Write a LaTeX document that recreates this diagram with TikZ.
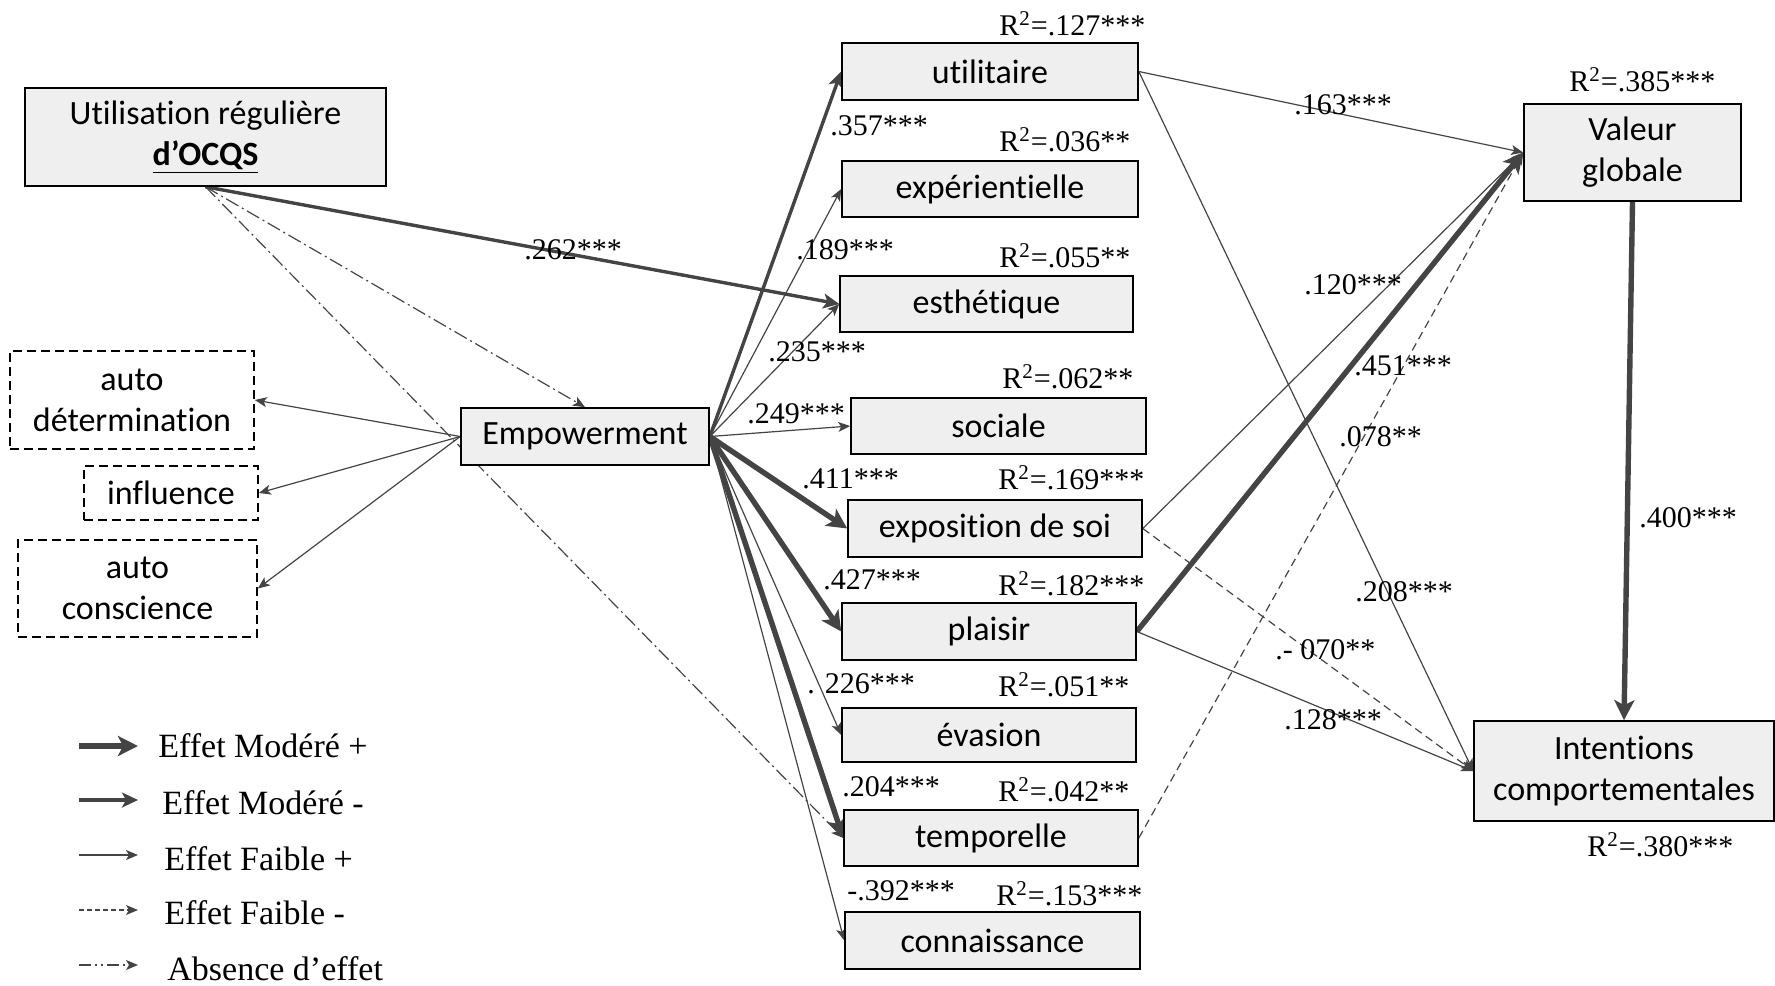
\documentclass[tikz,border=0pt]{standalone}
\usepackage{fontspec}
\setmainfont{Liberation Serif}
\newfontfamily\boxfont[RawFeature=-liga]{Carlito}
\usetikzlibrary{arrows.meta,backgrounds}

\definecolor{boxgray}{HTML}{EFEFEF}
\definecolor{arrowgray}{HTML}{444444}

\tikzset{
  box/.style={draw=black, line width=0.8pt, fill=boxgray, align=center, inner sep=0pt,
    font=\boxfont\fontsize{17}{20.5}\selectfont},
  dimbox/.style={box, fill=white, dash pattern=on 4.5pt off 2.5pt},
  coef/.style={anchor=west, inner sep=0pt, font=\fontsize{15}{18}\selectfont},
  legtext/.style={anchor=west, inner sep=0pt, font=\fontsize{17}{20}\selectfont},
  faible/.style={draw=arrowgray, line width=0.6pt, -{Stealth[length=6pt,width=5pt,inset=1.5pt]}},
  faibleneg/.style={faible, dash pattern=on 4pt off 2.5pt},
  absence/.style={faible, dash pattern=on 7pt off 2pt on 1pt off 2pt},
  modneg/.style={draw=arrowgray, line width=1.7pt, -{Stealth[length=8pt,width=7.5pt,inset=2pt]}},
  modpos/.style={draw=arrowgray, line width=2.7pt, -{Stealth[length=10pt,width=10pt,inset=2.5pt]}},
}

\begin{document}
\begin{tikzpicture}[x=0.5pt,y=-0.5pt]
  \useasboundingbox (0,0) rectangle (1775,985);

  % Antecedent et empowerment
  \node[box, minimum width=180.5pt, minimum height=49pt] (usage) at (205.5,137)
    {Utilisation régulière\\\textbf{\underline{d’OCQS}}};
  \node[box, minimum width=124pt, minimum height=28.5pt] (empow) at (585,436.5) {Empowerment};

  % Dimensions de l'empowerment
  \node[dimbox, minimum width=122pt, minimum height=49pt] (autodet) at (132,400) {auto\\détermination};
  \node[dimbox, minimum width=87pt, minimum height=27pt] (influ) at (171,493) {influence};
  \node[dimbox, minimum width=119.5pt, minimum height=48.5pt] (autocons) at (137.5,588.5) {auto\\conscience};

  % Sources de valeur
  \node[box, minimum width=148pt, minimum height=28.5pt] (utilit) at (990,71.5) {utilitaire};
  \node[box, minimum width=148pt, minimum height=28pt] (exper) at (990,189) {expérientielle};
  \node[box, minimum width=146.5pt, minimum height=28pt] (esth) at (986.5,304) {esthétique};
  \node[box, minimum width=147.5pt, minimum height=28pt] (soc) at (998.5,426) {sociale};
  \node[box, minimum width=147pt, minimum height=28.5pt] (expo) at (995,528.5) {exposition de soi};
  \node[box, minimum width=147pt, minimum height=28.5pt] (plai) at (989,631.5) {plaisir};
  \node[box, minimum width=147pt, minimum height=27pt] (evas) at (989,735) {évasion};
  \node[box, minimum width=147pt, minimum height=28pt] (temp) at (991,838) {temporelle};
  \node[box, minimum width=147.5pt, minimum height=28.5pt] (conn) at (992.5,940.5) {connaissance};

  % Variables finales
  \node[box, minimum width=108.5pt, minimum height=48.5pt] (valeur) at (1632.5,152.5) {Valeur\\globale};
  \node[box, minimum width=150pt, minimum height=50pt] (intent) at (1624,771) {Intentions\\comportementales};

  % R2
  \node[coef] (r2utilit) at (999,24) {R\textsuperscript{2}=.127***};
  \node[coef] (r2exper) at (999,140) {R\textsuperscript{2}=.036**};
  \node[coef] (r2esth) at (999,256) {R\textsuperscript{2}=.055**};
  \node[coef] (r2soc) at (1002,377) {R\textsuperscript{2}=.062**};
  \node[coef] (r2expo) at (998,478) {R\textsuperscript{2}=.169***};
  \node[coef] (r2plai) at (998,584) {R\textsuperscript{2}=.182***};
  \node[coef] (r2evas) at (998,685) {R\textsuperscript{2}=.051**};
  \node[coef] (r2temp) at (998,790) {R\textsuperscript{2}=.042**};
  \node[coef] (r2conn) at (996,894) {R\textsuperscript{2}=.153***};
  \node[coef] (r2valeur) at (1569,80) {R\textsuperscript{2}=.385***};
  \node[coef] (r2intent) at (1587,845) {R\textsuperscript{2}=.380***};

  % Coefficients
  \node[coef] (cusage) at (524,250) {.262***};
  \node[coef] (cutilit) at (830,126) {.357***};
  \node[coef] (cexper) at (796,250) {.189***};
  \node[coef] (cesth) at (768,352) {.235***};
  \node[coef] (csoc) at (747,414) {.249***};
  \node[coef] (cexpo) at (802,479) {.411***};
  \node[coef] (cplai) at (823,580) {.427***};
  \node[coef] (cevas) at (807,684) {. 226***};
  \node[coef] (ctemp) at (842,787) {.204***};
  \node[coef] (cconn) at (847,891) {-.392***};
  \node[coef] (cuv) at (1294,105) {.163***};
  \node[coef] (cev) at (1304,285) {.120***};
  \node[coef] (cpv) at (1354,366) {.451***};
  \node[coef] (ctv) at (1339,437) {.078**};
  \node[coef] (cvi) at (1639,518) {.400***};
  \node[coef] (cui) at (1355,592) {.208***};
  \node[coef] (cei) at (1275,650) {.- 070**};
  \node[coef] (cpi) at (1284,720) {.128***};

  \begin{scope}[on background layer]
    % Utilisation reguliere
    \draw[modneg] (usage.south) -- (esth.west);
    \draw[absence] (usage.south) -- (empow.north);
    \draw[absence] (usage.south) -- (temp.west);
    % Empowerment -> dimensions
    \draw[faible] (empow.west) -- (autodet.east);
    \draw[faible] (empow.west) -- (influ.east);
    \draw[faible] (empow.west) -- (autocons.east);
    % Empowerment -> sources de valeur
    \draw[modneg] (empow.east) -- (utilit.west);
    \draw[faible] (empow.east) -- (exper.west);
    \draw[faible] (empow.east) -- (esth.west);
    \draw[faible] (empow.east) -- (soc.west);
    \draw[modpos] (empow.east) -- (expo.west);
    \draw[modpos] (empow.east) -- (plai.west);
    \draw[faible] (empow.east) -- (evas.west);
    \draw[modpos] (empow.east) -- (temp.west);
    \draw[faible] (empow.east) -- (conn.west);
    % Sources -> valeur globale et intentions
    \draw[faible] (utilit.east) -- (valeur.west);
    \draw[faible] (utilit.east) -- (intent.west);
    \draw[faible] (expo.east) -- (valeur.west);
    \draw[faibleneg] (expo.east) -- (intent.west);
    \draw[modpos] (plai.east) -- (valeur.west);
    \draw[faible] (plai.east) -- (intent.west);
    \draw[faibleneg] (temp.east) -- (valeur.west);
    \draw[modpos] (valeur.south) -- (intent.north);
  \end{scope}

  % Legende
  \coordinate (lg1a) at (79,746);  \coordinate (lg1b) at (138,746);
  \coordinate (lg2a) at (79,800);  \coordinate (lg2b) at (138,800);
  \coordinate (lg3a) at (79,855);  \coordinate (lg3b) at (138,855);
  \coordinate (lg4a) at (79,910);  \coordinate (lg4b) at (138,910);
  \coordinate (lg5a) at (79,965);  \coordinate (lg5b) at (138,965);
  \draw[modpos] (lg1a) -- (lg1b);
  \draw[modneg] (lg2a) -- (lg2b);
  \draw[faible] (lg3a) -- (lg3b);
  \draw[faible, dash pattern=on 2.5pt off 1.5pt] (lg4a) -- (lg4b);
  \draw[faible, dash pattern=on 6pt off 2pt on 1pt off 2pt on 1pt off 2pt] (lg5a) -- (lg5b);
  \node[legtext] (lt1) at (158,746) {Effet Modéré +};
  \node[legtext] (lt2) at (162,803) {Effet Modéré -};
  \node[legtext] (lt3) at (164,859) {Effet Faible +};
  \node[legtext] (lt4) at (164,913) {Effet Faible -};
  \node[legtext] (lt5) at (167,969) {Absence d’effet};
\end{tikzpicture}
\end{document}
